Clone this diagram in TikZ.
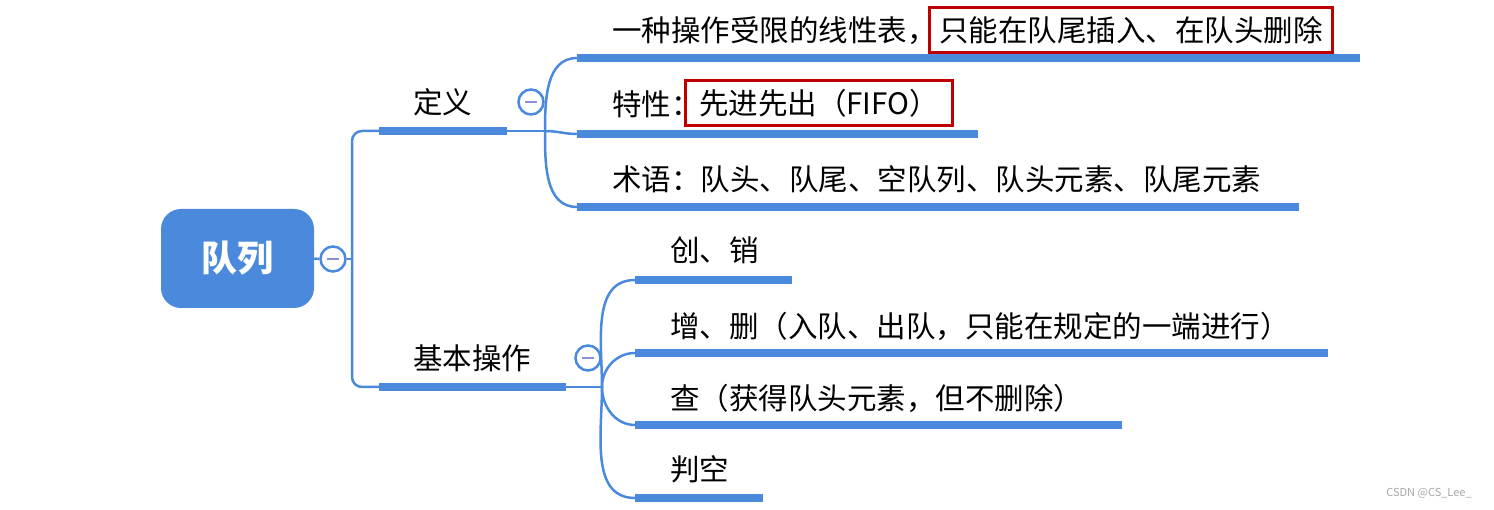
\documentclass[tikz,border=0pt]{standalone}
\usepackage{fontspec}
\setmainfont{Noto Sans CJK SC}
\usepackage{tikz}
\usetikzlibrary{positioning, calc}
\definecolor{mapblue}{RGB}{74,137,220}
\definecolor{markred}{RGB}{192,0,0}
\definecolor{foldpurple}{RGB}{140,143,214}
\colorlet{markgray}{black!35}

\begin{document}
\begin{tikzpicture}[x=1pt, y=-1pt,
  topic/.style={anchor=west, inner sep=0pt, font=\fontsize{29.5}{32}\selectfont},
  hlbox/.style={anchor=west, draw=markred, line width=3pt, inner sep=0pt, minimum height=45pt, font=\fontsize{29.5}{32}\selectfont},
  bar/.style={mapblue, line width=7.5pt},
  link/.style={mapblue, line width=2.5pt},
  fold/.style={circle, draw=mapblue, line width=2.5pt, fill=white, minimum size=25pt, inner sep=0pt,
    path picture={\draw[foldpurple, line width=2.5pt] ([xshift=-6pt]path picture bounding box.center) -- ([xshift=6pt]path picture bounding box.center);}}]
  \useasboundingbox (0,0) rectangle (1494,510);

  % root
  \node[fill=mapblue, rounded corners=20pt, minimum width=153pt, minimum height=99pt, text=white,
    font=\fontsize{36}{40}\selectfont\bfseries] (queue) at (237.5,258.5) {队列};
  \node[fold] (queuefold) at (333,259) {};
  \coordinate (queuejunc) at (352,259);
  \coordinate (dys) at (379,131);
  \coordinate (ops) at (379,387);
  \draw[link] (queue.east) -- (queuefold.west);
  \draw[link] (queuefold.east) -- (queuejunc);
  \draw[link, rounded corners=10pt] (dys) -- (dys -| queuejunc) -- (ops -| queuejunc) -- (ops);

  % 定义
  \node[topic] (dy) at (413,102.5) {定义};
  \draw[bar] (dys) -- ++(128,0) coordinate (dye);
  \node[fold] (dyfold) at (531,102) {};
  \coordinate (dyjunc) at (545,131);
  \draw[link] (dye) -- (dyjunc);

  \coordinate (d1s) at (577,58);
  \coordinate (d2s) at (577,134);
  \coordinate (d3s) at (577,207);
  \draw[bar] (d1s) -- (1360,58);
  \draw[bar] (d2s) -- (978,134);
  \draw[bar] (d3s) -- (1299,207);
  \draw[link] (dyjunc) to[out=90, in=180] (d1s);
  \draw[link] (dyjunc) to[out=0, in=180] (d2s);
  \draw[link] (dyjunc) to[out=-90, in=180] (d3s);

  \node[topic] (d1) at (612,31) {一种操作受限的线性表，};
  \node[hlbox, minimum width=403pt] (d1hl) at (928,30.5) {只能在队尾插入、在队头删除};
  \node[topic] (d2) at (612,104) {特性：};
  \node[hlbox, minimum width=267pt] (d2hl) at (684,103.5) {先进先出（FIFO）};
  \node[topic] (d3) at (612,179) {术语：队头、队尾、空队列、队头元素、队尾元素};

  % 基本操作
  \node[topic] (op) at (413,358.5) {基本操作};
  \draw[bar] (ops) -- ++(187,0) coordinate (ope);
  \node[fold] (opfold) at (588,358) {};
  \coordinate (opjunc) at (602,387);
  \draw[link] (ope) -- (opjunc);

  \coordinate (o1s) at (635,280);
  \coordinate (o2s) at (635,353);
  \coordinate (o3s) at (635,425);
  \coordinate (o4s) at (635,498);
  \draw[bar] (o1s) -- (792,280);
  \draw[bar] (o2s) -- (1328,353);
  \draw[bar] (o3s) -- (1122,425);
  \draw[bar] (o4s) -- (763,498);
  \draw[link] (opjunc) to[out=90, in=180] (o1s);
  \draw[link] (opjunc) to[out=90, in=180] (o2s);
  \draw[link] (opjunc) to[out=-90, in=180] (o3s);
  \draw[link] (opjunc) to[out=-90, in=180] (o4s);

  \node[topic] (o1) at (670,250.5) {创、销};
  \node[topic] (o2) at (670,326) {增、删（入队、出队，只能在规定的一端进行）};
  \node[topic] (o3) at (670,398.5) {查（获得队头元素，但不删除）};
  \node[topic] (o4) at (670,469.5) {判空};

  \node[text=markgray, inner sep=0pt, font=\fontsize{11}{12}\selectfont] (mark) at (1429,493) {CSDN @CS\_Lee\_};
\end{tikzpicture}
\end{document}
